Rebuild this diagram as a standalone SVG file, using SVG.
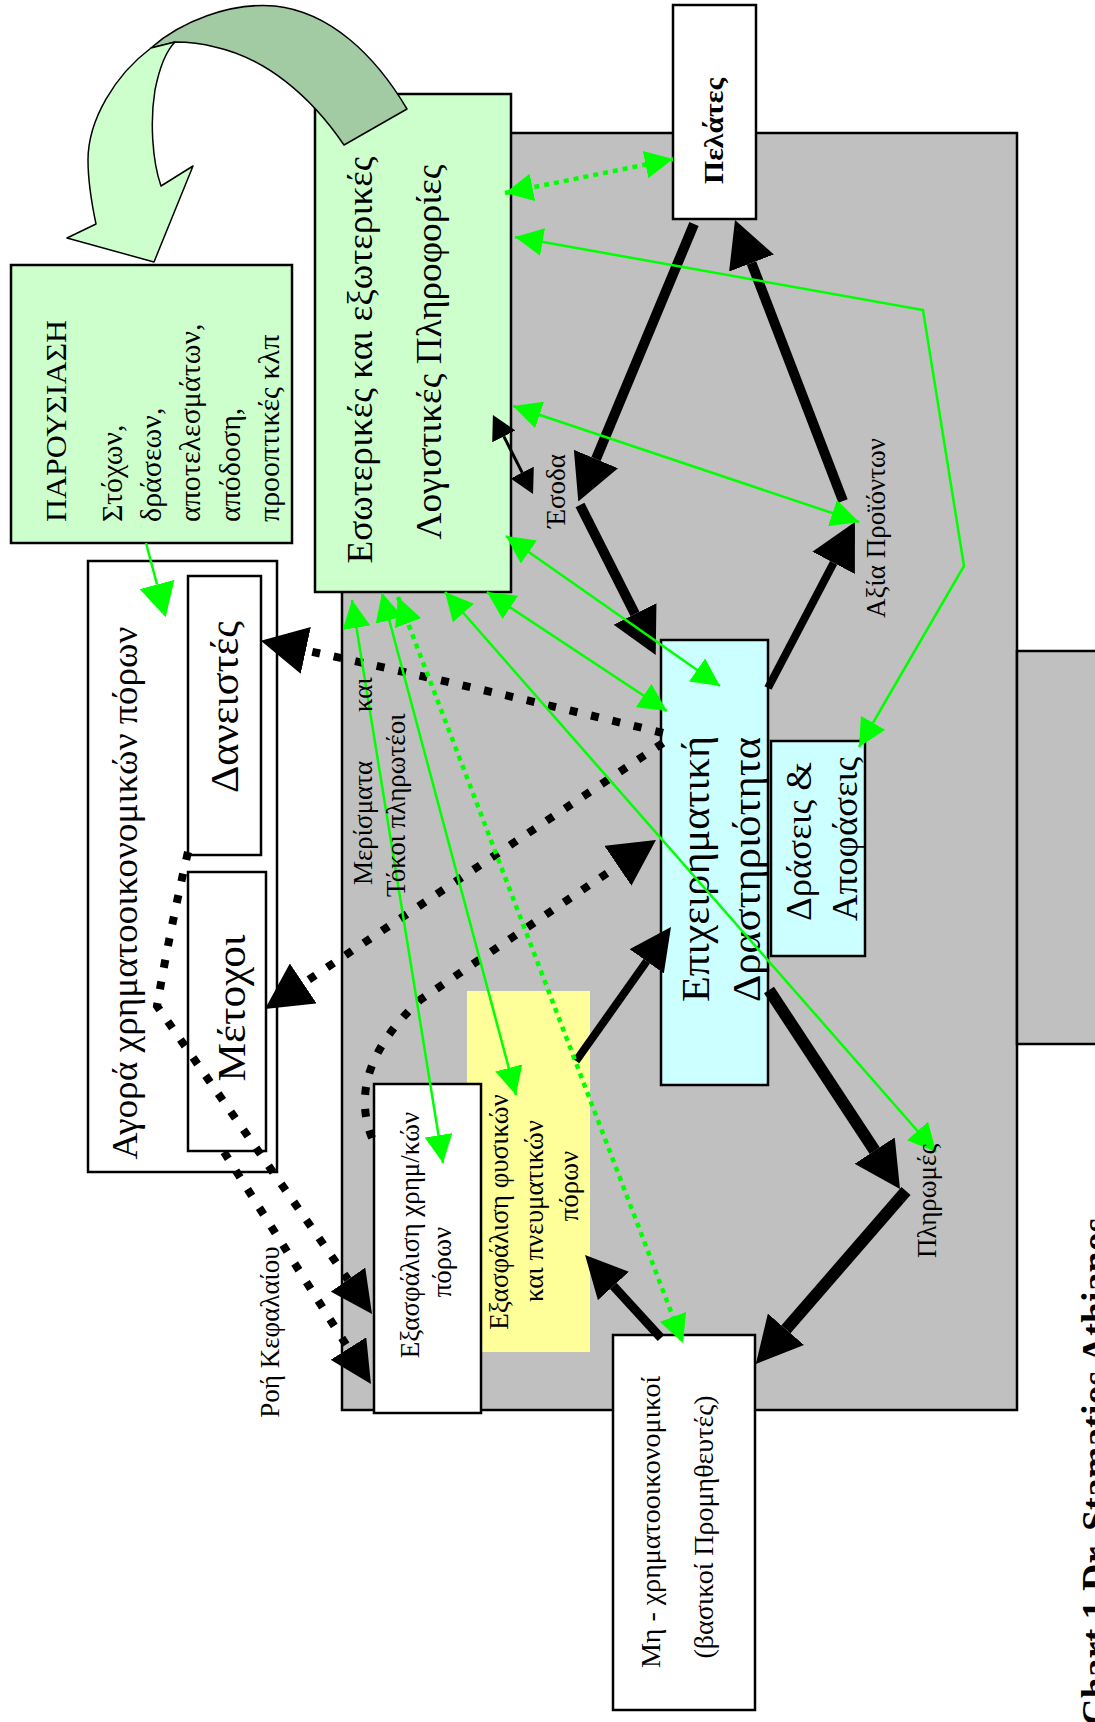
<svg xmlns="http://www.w3.org/2000/svg" width="1095" height="1722" viewBox="0 0 1095 1722">
<style>
.t{font-family:"Liberation Serif","DejaVu Serif",serif;fill:#000}
.bx{stroke:#000;stroke-width:2.5}
.g{fill:none;stroke:#00ff00;stroke-width:2.5}
.gd{fill:none;stroke:#00ff00;stroke-width:4.5;stroke-dasharray:5 5}
.k{fill:none;stroke:#000}
.kd{fill:none;stroke:#000;stroke-width:8;stroke-dasharray:8 14}
</style>
<defs>
<marker id="gh" markerUnits="userSpaceOnUse" markerWidth="28" markerHeight="28" refX="28" refY="14" orient="auto-start-reverse"><path d="M0,0L28,14L0,28z" fill="#00ff00"/></marker>
<marker id="ghb" markerUnits="userSpaceOnUse" markerWidth="34" markerHeight="36" refX="0" refY="18" orient="auto"><path d="M0,0L34,18L0,36z" fill="#00ff00"/></marker>
<marker id="bA" markerUnits="userSpaceOnUse" markerWidth="46" markerHeight="48" refX="0" refY="24" orient="auto"><path d="M0,0L46,24L0,48z" fill="#000"/></marker>
<marker id="bB" markerUnits="userSpaceOnUse" markerWidth="42" markerHeight="42" refX="0" refY="21" orient="auto"><path d="M0,0L42,21L0,42z" fill="#000"/></marker>
<marker id="bS" markerUnits="userSpaceOnUse" markerWidth="24" markerHeight="26" refX="0" refY="13" orient="auto-start-reverse"><path d="M0,0L24,13L0,26z" fill="#000"/></marker>
</defs>
<rect width="1095" height="1722" fill="#fff"/>

<g id="company-area">
<rect x="342" y="133" width="675" height="1277" fill="#c0c0c0" class="bx"/>
<rect x="1017" y="651" width="100" height="393" fill="#c0c0c0" class="bx"/>
</g>

<g id="parousiasi">
<rect x="11" y="265" width="281" height="278" fill="#ccffcc" class="bx"/>
<g class="t" font-size="30">
<text transform="translate(66,522) rotate(-90)" textLength="202" lengthAdjust="spacingAndGlyphs">ΠΑΡΟΥΣΙΑΣΗ</text>
<text transform="translate(122,522) rotate(-90)">Στόχων,</text>
<text transform="translate(161,522) rotate(-90)">δράσεων,</text>
<text transform="translate(200,522) rotate(-90)">αποτελεσμάτων,</text>
<text transform="translate(240,522) rotate(-90)">απόδοση,</text>
<text transform="translate(279,522) rotate(-90)">προοπτικές κλπ</text>
</g>
</g>

<g id="info">
<rect x="315" y="94" width="196" height="498" fill="#ccffcc" class="bx"/>
<g class="t" font-size="36" text-anchor="middle" lengthAdjust="spacingAndGlyphs">
<text transform="translate(372,360) rotate(-90)" textLength="407" lengthAdjust="spacingAndGlyphs">Εσωτερικές και εξωτερικές</text>
<text transform="translate(441,352) rotate(-90)" textLength="375" lengthAdjust="spacingAndGlyphs">Λογιστικές Πληροφορίες</text>
</g>
</g>

<g id="pelates">
<rect x="673" y="5" width="83" height="214" fill="#fff" class="bx"/>
<text class="t" font-size="28" font-weight="bold" text-anchor="middle" transform="translate(723,131) rotate(-90)" textLength="106" lengthAdjust="spacingAndGlyphs">Πελάτες</text>
</g>

<g id="agora">
<rect x="88" y="561" width="189" height="611" fill="#fff" class="bx"/>
<text class="t" font-size="36" text-anchor="middle" transform="translate(137,893) rotate(-90)" textLength="533" lengthAdjust="spacingAndGlyphs">Αγορά χρηματοοικονομικών πόρων</text>
</g>

<g id="daneistes">
<rect x="188" y="576" width="73" height="279" fill="#fff" class="bx"/>
<text class="t" font-size="41" text-anchor="middle" transform="translate(238,707) rotate(-90)" textLength="172" lengthAdjust="spacingAndGlyphs">Δανειστές</text>
</g>

<g id="metoxoi">
<rect x="188" y="872" width="78" height="279" fill="#fff" class="bx"/>
<text class="t" font-size="41" text-anchor="middle" transform="translate(245,1008) rotate(-90)" textLength="147" lengthAdjust="spacingAndGlyphs">Μέτοχοι</text>
</g>

<g id="epixeirimatiki">
<rect x="661" y="640" width="107" height="445" fill="#ccffff" class="bx"/>
<g class="t" font-size="40">
<text transform="translate(709,1002) rotate(-90)" textLength="266" lengthAdjust="spacingAndGlyphs">Επιχειρηματική</text>
<text transform="translate(760,1002) rotate(-90)" textLength="265" lengthAdjust="spacingAndGlyphs">Δραστηριότητα</text>
</g>
</g>

<g id="draseis">
<rect x="771" y="741" width="94" height="215" fill="#ccffff" class="bx"/>
<g class="t" font-size="36">
<text transform="translate(811,921) rotate(-90)" textLength="159" lengthAdjust="spacingAndGlyphs">Δράσεις &amp;</text>
<text transform="translate(857,921) rotate(-90)" textLength="164" lengthAdjust="spacingAndGlyphs">Αποφάσεις</text>
</g>
</g>

<g id="fysikoi-poroi">
<rect x="467" y="991" width="123" height="361" fill="#ffff99"/>
<g class="t" font-size="27" text-anchor="middle">
<text transform="translate(508,1212) rotate(-90)">Εξασφάλιση φυσικών</text>
<text transform="translate(543,1211) rotate(-90)">και πνευματικών</text>
<text transform="translate(578,1186) rotate(-90)">πόρων</text>
</g>
</g>

<g id="xrim-poroi">
<rect x="374" y="1084" width="107" height="329" fill="#fff" class="bx"/>
<g class="t" font-size="27" text-anchor="middle">
<text transform="translate(419,1235) rotate(-90)">Εξασφάλιση χρημ/κών</text>
<text transform="translate(451,1262) rotate(-90)">πόρων</text>
</g>
</g>

<g id="promitheftes">
<rect x="613" y="1335" width="142" height="375" fill="#fff" class="bx"/>
<g class="t" font-size="28" text-anchor="middle">
<text transform="translate(660,1522) rotate(-90)">Μη - χρηματοοικονομικοί</text>
<text transform="translate(713,1527) rotate(-90)">(βασικοί Προμηθευτές)</text>
</g>
</g>

<g id="curved-arrow" stroke="#000" stroke-width="1.5" stroke-linejoin="round">
<path d="M151,48 C180,22 230,2 275,6 C330,12 375,55 407,109 L344,145 C310,95 265,58 215,47 C200,43 188,42 175,42 Z" fill="#a3cba3"/>
<path d="M151,48 C115,75 88,120 88,160 C88,185 92,205 96,224 L67,238 L154,262 L193,166 L161,186 C152,160 150,120 155,90 C160,65 167,50 175,42 Z" fill="#ccffcc"/>
</g>

<g id="connectors">
<path class="k" stroke-width="10" d="M694,224 L596,459" marker-end="url(#bA)"/>
<path class="k" stroke-width="10" d="M580,505 L635,614" marker-end="url(#bA)"/>
<path class="k" stroke-width="8" d="M768,688 L833.6,562.8" marker-end="url(#bA)"/>
<path class="k" stroke-width="10" d="M843,501 L751.5,263" marker-end="url(#bA)"/>
<path class="k" stroke-width="12" d="M769,990 L874.7,1150.6" marker-end="url(#bA)"/>
<path class="k" stroke-width="12" d="M906,1191 L786,1329.3" marker-end="url(#bA)"/>
<path class="k" stroke-width="8" d="M576,1061 L646.7,961.3" marker-end="url(#bB)"/>
<path class="k" stroke-width="9" d="M661,1338 L613.4,1286" marker-end="url(#bB)"/>
<path class="k" stroke-width="3" d="M503.8,436.4 L522.2,472.6" marker-start="url(#bS)" marker-end="url(#bS)"/>

<path class="kd" d="M663,733 Q480,688 305.8,650.4" marker-end="url(#bA)"/>
<path class="kd" d="M663,743 L303.2,983.4" marker-end="url(#bA)"/>
<path class="kd" d="M372,1138 Q345,1070 420,1000 L617.9,865.8" marker-end="url(#bA)"/>
<path class="kd" stroke-width="7" stroke-dasharray="7 12" d="M188,852 Q170,930 157,1006 L348,1279.6" marker-end="url(#bB)"/>
<path class="kd" stroke-width="7" stroke-dasharray="7 12" d="M224,1152 L348.5,1348.5" marker-end="url(#bB)"/>

<path class="gd" d="M505,193 L673,159" marker-start="url(#gh)" marker-end="url(#gh)"/>
<path class="g" d="M515,237 L923,310 L964,566 L859,747" marker-start="url(#gh)" marker-end="url(#gh)"/>
<path class="g" d="M513,406 L859,522" marker-start="url(#gh)" marker-end="url(#gh)"/>
<path class="g" d="M506,536 L720,686" marker-start="url(#gh)" marker-end="url(#gh)"/>
<path class="g" d="M487,592 L667,711" marker-start="url(#gh)" marker-end="url(#gh)"/>
<path class="g" d="M445,592 L936,1152" marker-start="url(#gh)" marker-end="url(#gh)"/>
<path class="g" d="M352,600 L443,1163" marker-start="url(#gh)" marker-end="url(#gh)"/>
<path class="g" d="M382,593 L516,1095" marker-start="url(#gh)" marker-end="url(#gh)"/>
<path class="gd" stroke-width="4" stroke-dasharray="4 4" d="M398,597 L683,1343" marker-start="url(#gh)" marker-end="url(#gh)"/>
<path class="g" stroke-width="5" d="M146,543 L157,584.5" marker-end="url(#ghb)"/>
</g>

<g id="labels" class="t" font-size="27">
<text text-anchor="middle" transform="translate(565,491) rotate(-90)">Έσοδα</text>
<text text-anchor="middle" transform="translate(885,528) rotate(-90)">Αξία Προϊόντων</text>
<text text-anchor="middle" transform="translate(936,1201) rotate(-90)">Πληρωμές</text>
<text text-anchor="middle" transform="translate(279,1332) rotate(-90)">Ροή Κεφαλαίου</text>
<text transform="translate(372,885) rotate(-90)">Μερίσματα<tspan x="173">και</tspan></text>
<text transform="translate(405,897) rotate(-90)">Τόκοι πληρωτέοι</text>
</g>

<g id="caption">
<text class="t" font-size="38" font-weight="bold" transform="translate(1108,1726) rotate(-90)">Chart 1 Dr. Stamatios Athianos</text>
</g>
</svg>
